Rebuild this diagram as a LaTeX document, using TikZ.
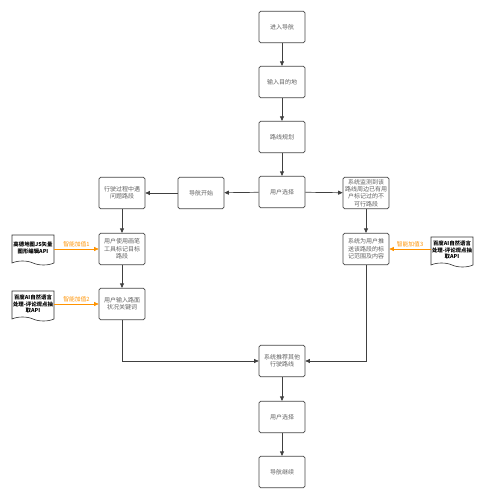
\documentclass[tikz,border=0pt]{standalone}
\usepackage{fontspec}
\setmainfont{Noto Sans CJK SC}
\usetikzlibrary{arrows.meta,positioning,shapes.symbols}

\begin{document}
\begin{tikzpicture}[
    x=1pt,
    y=-1pt,
    >={Triangle[length=4.5pt, width=4pt]},
    stepbox/.style={draw=black!72, line width=0.7pt, rounded corners=1.6pt,
                    minimum width=46pt, minimum height=31.5pt, text width=44pt,
                    align=center, inner sep=1pt, text=black!62,
                    font=\fontsize{6}{7.4}\selectfont},
    apidoc/.style={shape=tape, tape bend top=none, tape bend bottom=out and in,
                   tape bend height=4pt, draw=black!80, line width=0.6pt,
                   minimum width=42pt, minimum height=30pt, text width=40pt,
                   align=center, inner sep=0.5pt,
                   font=\bfseries\fontsize{5.4}{6.6}\selectfont},
    flow/.style={->, line width=0.7pt, black!75},
    boost/.style={->, line width=0.7pt, orange!85!yellow},
    boosttext/.style={font=\fontsize{5.8}{6.5}\selectfont, text=orange!85!yellow, inner sep=1.5pt},
]
\useasboundingbox (0,0) rectangle (487,500);
\fill[white] (0,0) rectangle (487,500);

% main column
\node[stepbox] (enter)  at (282,27)  {进入导航};
\node[stepbox] (dest)   at (282,82)  {输入目的地};
\node[stepbox] (plan)   at (282,137) {路线规划};
\node[stepbox] (pick)   at (282,192) {用户选择};
\node[stepbox] (reroute) at (282,361) {系统推荐其他\\行驶路线};
\node[stepbox] (pick2)  at (282,417) {用户选择};
\node[stepbox] (resume) at (282,472) {导航继续};

% left branch
\node[stepbox] (start)  at (201,193) {导航开始};
\node[stepbox] (issue)  at (122,193) {行驶过程中遇\\问题路段};
\node[stepbox] (mark)   at (122,249) {用户使用画笔\\工具标记目标\\路段};
\node[stepbox] (words)  at (122,304) {用户输入路面\\状况关键词};

% right branch
\node[stepbox] (detect) at (366,193) {系统监测到该\\路线周边已有用\\户标记过的不\\可行路段};
\node[stepbox] (push)   at (366,249) {系统为用户推\\送该路段的标\\记范围及内容};

% API sources
\node[apidoc] (amap)   at (33,248)  {高德地图JS矢量\\图形编辑API};
\node[apidoc] (nlpA)   at (33,304)  {百度AI自然语言\\处理-评论观点抽\\取API};
\node[apidoc] (nlpB)   at (452,250) {百度AI自然语言\\处理-评论观点抽\\取API};

\coordinate (leftbend)  at (words.south |- reroute.west);
\coordinate (rightbend) at (push.south |- reroute.east);

\draw[flow] (enter) -- (dest);
\draw[flow] (dest) -- (plan);
\draw[flow] (plan) -- (pick);
\draw[flow] (pick) -- (start);
\draw[flow] (start) -- (issue);
\draw[flow] (issue) -- (mark);
\draw[flow] (mark) -- (words);
\draw[flow] (words.south) -- (leftbend) -- (reroute.west);
\draw[flow] (pick) -- (detect);
\draw[flow] (detect) -- (push);
\draw[flow] (push.south) -- (rightbend) -- (reroute.east);
\draw[flow] (reroute) -- (pick2);
\draw[flow] (pick2) -- (resume);

\draw[boost] (amap.east |- mark.west) -- node[boosttext, above] {智能加值1} (mark.west);
\draw[boost] (nlpA.east |- words.west) -- node[boosttext, above] {智能加值2} (words.west);
\draw[boost] (nlpB.west |- push.east) -- node[boosttext, above] {智能加值3} (push.east);
\end{tikzpicture}
\end{document}
